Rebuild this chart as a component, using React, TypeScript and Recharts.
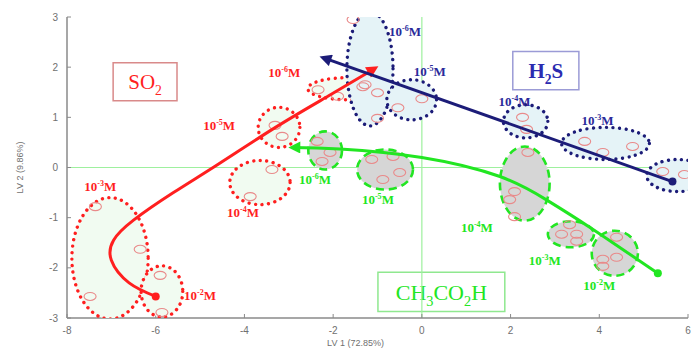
import React from "react";
import {
  ComposedChart,
  XAxis,
  YAxis,
  Scatter,
  ReferenceLine,
  ReferenceArea,
} from "recharts";

// axis ticks
const xTicks = [-8, -6, -4, -2, 0, 2, 4, 6];
const yTicks = [-3, -2, -1, 0, 1, 2, 3];

// trend paths (LV1, LV2), first point = start dot, last point = arrow tip
const so2Path = [
  { x: -6.0, y: -2.57 },
  { x: -6.6, y: -2.3 },
  { x: -7.0, y: -1.85 },
  { x: -6.95, y: -1.45 },
  { x: -6.5, y: -1.05 },
  { x: -5.6, y: -0.5 },
  { x: -4.6, y: 0.06 },
  { x: -3.3, y: 0.8 },
  { x: -2.1, y: 1.43 },
  { x: -1.05, y: 1.98 },
];
const h2sPath = [
  { x: 5.65, y: -0.28 },
  { x: -2.23, y: 2.19 },
];
const aceticPath = [
  { x: 5.32, y: -2.11 },
  { x: 3.8, y: -1.2 },
  { x: 2.8, y: -0.64 },
  { x: 1.76, y: -0.18 },
  { x: 0.0, y: 0.2 },
  { x: -1.85, y: 0.37 },
  { x: -2.93, y: 0.4 },
];

// concentration clusters: centre + half axes in data units
const so2Clusters = [
  { x: -7.03, y: -1.81, rx: 0.86, ry: 1.21 },
  { x: -5.86, y: -2.47, rx: 0.47, ry: 0.51 },
  { x: -3.65, y: -0.3, rx: 0.68, ry: 0.44 },
  { x: -3.22, y: 0.8, rx: 0.47, ry: 0.4 },
  { x: -1.67, y: 1.57, rx: 0.9, ry: 0.22 },
];
const h2sClusters = [
  { x: -1.17, y: 1.97, rx: 0.52, ry: 1.14 },
  { x: -0.23, y: 1.35, rx: 0.56, ry: 0.4 },
  { x: 2.34, y: 0.92, rx: 0.5, ry: 0.33 },
  { x: 4.14, y: 0.48, rx: 0.99, ry: 0.32 },
  { x: 5.77, y: -0.16, rx: 0.7, ry: 0.32 },
];
const aceticClusters = [
  { x: -2.18, y: 0.34, rx: 0.38, ry: 0.38 },
  { x: -0.83, y: -0.04, rx: 0.63, ry: 0.4 },
  { x: 2.32, y: -0.32, rx: 0.56, ry: 0.74 },
  { x: 3.36, y: -1.33, rx: 0.52, ry: 0.26 },
  { x: 4.35, y: -1.71, rx: 0.52, ry: 0.45 },
];

// individual measurements
const samples = [
  { x: -7.36, y: -0.78 }, { x: -6.35, y: -1.63 }, { x: -7.48, y: -2.57 },
  { x: -5.9, y: -2.15 }, { x: -5.86, y: -2.89 },
  { x: -3.31, y: 0.84 }, { x: -3.15, y: 0.62 },
  { x: -3.38, y: -0.04 }, { x: -3.87, y: -0.58 },
  { x: -2.34, y: 1.55 }, { x: -1.33, y: 1.61 }, { x: -1.0, y: 1.49 }, { x: -1.9, y: 1.42 },
  { x: -1.55, y: 2.95 }, { x: -1.28, y: 1.65 }, { x: -1.0, y: 0.98 },
  { x: 0.0, y: 1.37 }, { x: -0.54, y: 1.19 },
  { x: 2.27, y: 1.0 }, { x: 2.36, y: 0.76 },
  { x: 3.67, y: 0.52 }, { x: 4.75, y: 0.42 }, { x: 4.08, y: 0.3 },
  { x: 5.43, y: -0.08 }, { x: 5.92, y: -0.14 },
  { x: -2.36, y: 0.52 }, { x: -2.07, y: 0.3 }, { x: -2.25, y: 0.12 },
  { x: -1.13, y: 0.16 }, { x: -0.65, y: 0.22 }, { x: -0.88, y: -0.24 }, { x: -0.5, y: -0.1 },
  { x: 2.39, y: 0.3 }, { x: 2.09, y: -0.48 }, { x: 1.98, y: -0.64 }, { x: 2.09, y: -0.98 },
  { x: 3.33, y: -1.14 }, { x: 3.15, y: -1.33 }, { x: 3.49, y: -1.33 }, { x: 3.49, y: -1.47 },
  { x: 4.39, y: -1.39 }, { x: 4.39, y: -1.79 }, { x: 4.08, y: -1.83 }, { x: 4.08, y: -1.97 },
];

// concentration labels (exponent of 10^n M)
const so2Labels = [
  { x: -3.1, y: 1.89, exp: "-6" },
  { x: -4.57, y: 0.82, exp: "-5" },
  { x: -4.03, y: -0.9, exp: "-4" },
  { x: -7.25, y: -0.38, exp: "-3" },
  { x: -5.0, y: -2.57, exp: "-2" },
];
const h2sLabels = [
  { x: -0.38, y: 2.71, exp: "-6" },
  { x: 0.18, y: 1.91, exp: "-5" },
  { x: 2.09, y: 1.31, exp: "-4" },
  { x: 3.96, y: 0.92, exp: "-3" },
];
const aceticLabels = [
  { x: -2.41, y: -0.24, exp: "-6" },
  { x: -0.99, y: -0.64, exp: "-5" },
  { x: 1.24, y: -1.2, exp: "-4" },
  { x: 2.77, y: -1.87, exp: "-3" },
  { x: 4.0, y: -2.37, exp: "-2" },
];

const W = 692;
const H = 349;
const PLOT_W = 621;
const PLOT_H = 301;
const PX_X = PLOT_W / 14;
const PX_Y = PLOT_H / 6;

const RED = "#ff1f1f";
const NAVY = "#1c1c78";
const GREEN = "#22e622";
const SERIF = "'Liberation Serif', 'Times New Roman', serif";

const clusterShape =
  (stroke: string, fill: string, dash: string, width: number, cap: "round" | "butt") =>
  (p: any) =>
    (
      <ellipse
        cx={p.cx}
        cy={p.cy}
        rx={p.payload.rx * PX_X}
        ry={p.payload.ry * PX_Y}
        fill={fill}
        stroke={stroke}
        strokeWidth={width}
        strokeDasharray={dash}
        strokeLinecap={cap}
      />
    );

const sampleShape = (p: any) => (
  <ellipse cx={p.cx} cy={p.cy} rx={6} ry={4} fill="none" stroke="#e98a8a" strokeWidth={1.1} />
);

const concLabel = (color: string) => (p: any) => (
  <text
    x={p.cx}
    y={p.cy + 4}
    fill={color}
    fontFamily={SERIF}
    fontWeight="bold"
    fontSize={13}
    textAnchor="middle"
  >
    10
    <tspan dy={-5} fontSize={8}>
      {p.payload.exp}
    </tspan>
    <tspan dy={5}>M</tspan>
  </text>
);

// only the first point of a path gets a dot
const startDot = (path: { x: number; y: number }[], color: string) => (p: any) =>
  p.payload && p.payload.x === path[0].x && p.payload.y === path[0].y ? (
    <circle cx={p.cx} cy={p.cy} r={4} fill={color} />
  ) : (
    <g />
  );

const BoxLabel = ({ viewBox, main, color, size, bold }: any) => {
  if (!viewBox) return null;
  const cx = viewBox.x + viewBox.width / 2;
  const cy = viewBox.y + viewBox.height / 2;
  return (
    <text
      x={cx}
      y={cy + size * 0.35}
      fill={color}
      fontFamily={SERIF}
      fontSize={size}
      fontWeight={bold ? "bold" : "normal"}
      textAnchor="middle"
    >
      {main.map((part: [string, boolean], i: number) =>
        part[1] ? (
          <tspan key={i} fontSize={size * 0.65} dy={size * 0.3}>
            {part[0]}
          </tspan>
        ) : (
          <tspan key={i} dy={i > 0 && main[i - 1][1] ? -size * 0.3 : 0}>
            {part[0]}
          </tspan>
        )
      )}
    </text>
  );
};

const tickStyle = { fill: "#707070", fontSize: 10, fontFamily: "'Liberation Sans', Arial, sans-serif" };

export default function App() {
  return (
    <div style={{ position: "absolute", left: 0, top: 0, width: W, height: H, background: "#fff" }}>
      <svg width={0} height={0} style={{ position: "absolute" }}>
        <defs>
          <marker id="arrRed" viewBox="0 0 10 10" refX="7" refY="5" markerWidth="5" markerHeight="4" orient="auto">
            <path d="M0,0 L10,5 L0,10 z" fill={RED} />
          </marker>
          <marker id="arrNavy" viewBox="0 0 10 10" refX="7" refY="5" markerWidth="5" markerHeight="4" orient="auto">
            <path d="M0,0 L10,5 L0,10 z" fill={NAVY} />
          </marker>
          <marker id="arrGreen" viewBox="0 0 10 10" refX="7" refY="5" markerWidth="5" markerHeight="4" orient="auto">
            <path d="M0,0 L10,5 L0,10 z" fill={GREEN} />
          </marker>
        </defs>
      </svg>
      <ComposedChart width={W} height={H} margin={{ top: 17, right: 4, bottom: 9, left: 12 }}>
        <XAxis
          xAxisId="b"
          type="number"
          dataKey="x"
          domain={[-8, 6]}
          ticks={xTicks}
          allowDataOverflow
          height={22}
          axisLine={{ stroke: "#8a8a8a", strokeWidth: 1.5 }}
          tickLine={{ stroke: "#8a8a8a" }}
          tickSize={-4}
          tickMargin={13}
          tick={tickStyle}
          label={{
            value: "LV 1 (72.85%)",
            position: "insideBottom",
            offset: -6,
            dx: -22,
            fill: "#707070",
            fontSize: 9,
            fontFamily: "'Liberation Sans', Arial, sans-serif",
          }}
        />
        <XAxis
          xAxisId="t"
          orientation="top"
          type="number"
          dataKey="x"
          domain={[-8, 6]}
          ticks={xTicks}
          allowDataOverflow
          height={0}
          axisLine={{ stroke: "#8a8a8a", strokeWidth: 1.5 }}
          tickLine={{ stroke: "#8a8a8a" }}
          tickSize={-4}
          tickFormatter={() => ""}
        />
        <YAxis
          yAxisId="l"
          type="number"
          dataKey="y"
          domain={[-3, 3]}
          ticks={yTicks}
          allowDataOverflow
          width={55}
          axisLine={{ stroke: "#8a8a8a", strokeWidth: 1.5 }}
          tickLine={{ stroke: "#8a8a8a" }}
          tickSize={-4}
          tickMargin={13}
          tick={tickStyle}
          label={{
            value: "LV 2 (9.86%)",
            angle: -90,
            position: "insideLeft",
            offset: 8,
            fill: "#707070",
            fontSize: 9,
            fontFamily: "'Liberation Sans', Arial, sans-serif",
            style: { textAnchor: "middle" },
          }}
        />
        <YAxis
          yAxisId="r"
          orientation="right"
          type="number"
          dataKey="y"
          domain={[-3, 3]}
          ticks={yTicks}
          allowDataOverflow
          width={0}
          axisLine={{ stroke: "#8a8a8a", strokeWidth: 1.5 }}
          tickLine={{ stroke: "#8a8a8a" }}
          tickSize={-4}
          tickFormatter={() => ""}
        />

        <ReferenceLine xAxisId="b" yAxisId="l" x={0} stroke="#9ef09e" strokeWidth={1.2} />
        <ReferenceLine xAxisId="b" yAxisId="l" y={0} stroke="#9ef09e" strokeWidth={1.2} />

        <Scatter
          xAxisId="b"
          yAxisId="l"
          data={so2Clusters}
          isAnimationActive={false}
          shape={clusterShape(RED, "#f1fbf1", "0.01 6.5", 3.4, "round")}
        />
        <Scatter
          xAxisId="b"
          yAxisId="l"
          data={h2sClusters}
          isAnimationActive={false}
          shape={clusterShape(NAVY, "#e5f3f7", "0.01 6.5", 3.4, "round")}
        />
        <Scatter
          xAxisId="b"
          yAxisId="l"
          data={aceticClusters}
          isAnimationActive={false}
          shape={clusterShape(GREEN, "#d6d6d6", "8 5", 2.6, "butt")}
        />
        <Scatter xAxisId="b" yAxisId="l" data={samples} isAnimationActive={false} shape={sampleShape} />

        <Scatter
          xAxisId="b"
          yAxisId="l"
          data={so2Path}
          line={{ stroke: RED, strokeWidth: 3, markerEnd: "url(#arrRed)" }}
          lineJointType="natural"
          shape={startDot(so2Path, RED)}
          isAnimationActive={false}
        />
        <Scatter
          xAxisId="b"
          yAxisId="l"
          data={h2sPath}
          line={{ stroke: NAVY, strokeWidth: 3, markerEnd: "url(#arrNavy)" }}
          lineJointType="linear"
          shape={startDot(h2sPath, NAVY)}
          isAnimationActive={false}
        />
        <Scatter
          xAxisId="b"
          yAxisId="l"
          data={aceticPath}
          line={{ stroke: GREEN, strokeWidth: 3, markerEnd: "url(#arrGreen)" }}
          lineJointType="natural"
          shape={startDot(aceticPath, GREEN)}
          isAnimationActive={false}
        />

        <Scatter xAxisId="b" yAxisId="l" data={so2Labels} isAnimationActive={false} shape={concLabel(RED)} />
        <Scatter xAxisId="b" yAxisId="l" data={h2sLabels} isAnimationActive={false} shape={concLabel("#2a2a9a")} />
        <Scatter xAxisId="b" yAxisId="l" data={aceticLabels} isAnimationActive={false} shape={concLabel(GREEN)} />

        <ReferenceArea
          xAxisId="b"
          yAxisId="l"
          x1={-6.96}
          x2={-5.52}
          y1={1.33}
          y2={2.09}
          fill="#fff"
          fillOpacity={1}
          stroke="#d98a8a"
          strokeWidth={1.5}
          label={<BoxLabel main={[["SO", false], ["2", true]]} color={RED} size={21} />}
        />
        <ReferenceArea
          xAxisId="b"
          yAxisId="l"
          x1={2.05}
          x2={3.54}
          y1={1.55}
          y2={2.31}
          fill="#fff"
          fillOpacity={1}
          stroke="#9b9bd6"
          strokeWidth={1.5}
          label={<BoxLabel main={[["H", false], ["2", true], ["S", false]]} color="#2b2bb0" size={21} bold />}
        />
        <ReferenceArea
          xAxisId="b"
          yAxisId="l"
          x1={-0.99}
          x2={1.87}
          y1={-2.87}
          y2={-2.09}
          fill="#fff"
          fillOpacity={1}
          stroke="#8fe88f"
          strokeWidth={1.5}
          label={
            <BoxLabel
              main={[["CH", false], ["3", true], ["CO", false], ["2", true], ["H", false]]}
              color={GREEN}
              size={22}
            />
          }
        />
      </ComposedChart>
    </div>
  );
}
